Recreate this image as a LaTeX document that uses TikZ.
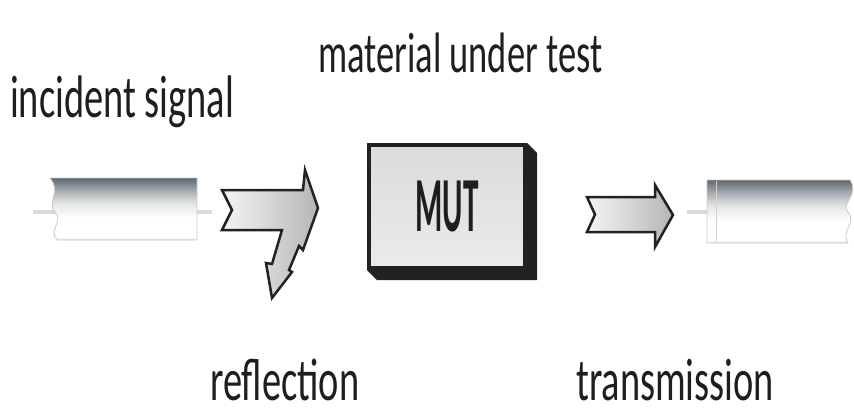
\documentclass[tikz,border=0pt]{standalone}
\usepackage{fontspec}
\setmainfont{Carlito}
\newfontfamily\capfont[FakeStretch=0.64]{Carlito}
\newfontfamily\mutfont[FakeStretch=0.40]{Carlito}
\usepackage{tikz}
\usetikzlibrary{positioning, calc}
\definecolor{cablegrey}{HTML}{5C6770}
\definecolor{edgedark}{HTML}{222222}
\definecolor{inkgrey}{HTML}{1E1E1E}

% cable body: dark rim on top, white underside
\pgfdeclareverticalshading{cableshade}{100bp}{color(0bp)=(gray!30); color(25bp)=(gray!30); color(27bp)=(white); color(43bp)=(white); color(55bp)=(gray!22); color(65bp)=(cablegrey!55); color(75bp)=(cablegrey); color(100bp)=(cablegrey)}

\begin{document}
\begin{tikzpicture}[x=1pt, y=-1pt,
  sigtext/.style={font=\capfont\fontsize{60}{60}\selectfont, text=inkgrey, inner sep=0pt, anchor=base west},
  cable/.style={shading=cableshade, draw=gray!40, line width=0.8pt},
  stub/.style={fill=gray!30},
  blockarrow/.style={left color=gray!8, right color=gray!58, draw=edgedark, line width=2.5pt, line join=miter},
  mutbox/.style={draw=edgedark, line width=4pt, top color=gray!28, bottom color=gray!16, minimum width=156pt, minimum height=123pt, font=\mutfont\bfseries\fontsize{78}{78}\selectfont, text=inkgrey, inner sep=0pt}]
  \useasboundingbox[fill=white] (0,0) rectangle (854,418);

  % labels
  \node[sigtext] (incident) at (10,117) {incident signal};
  \node[sigtext, font=\capfont\fontsize{57}{57}\selectfont] (material) at (318,72) {material under test};
  \node[sigtext] (reflection) at (210,400) {reflection};
  \node[sigtext] (transmission) at (576,400) {transmission};

  % left cable, torn end on the left
  \fill[stub] (33,210) rectangle (212,214);
  \draw[cable] (50,178) -- (197,178) -- (197,240) -- (57,240)
    .. controls (48,229) and (64,222) .. (55,212)
    .. controls (46,202) and (62,192) .. (50,178) -- cycle;

  % right cable, torn end on the right
  \fill[stub] (687,210) rectangle (708,214);
  \draw[cable] (707,180) -- (850,180)
    .. controls (860,195) and (840,204) .. (848,212)
    .. controls (857,222) and (840,232) .. (848,243) -- (707,243) -- cycle;
  \draw[gray!35, line width=0.6pt] (716,181) -- (716,242);

  % incident wave splitting into reflected part
  \draw[blockarrow] (222,190) -- (303,190) -- (305,170) -- (318,208) -- (303,250)
    -- (299,246) -- (289,270) -- (292,272) -- (272,298) -- (266,263)
    -- (272,264) -- (282,230) -- (222,230) -- (232,210) -- cycle;

  % sample block with dark side faces
  \node[mutbox] (mut) at (447,206.5) {MUT};
  \fill[edgedark] (mut.north east) -- ++(10,10) -- ($(mut.south east)+(10,10)$)
    -- ($(mut.south west)+(10,10)$) -- (mut.south west) -- (mut.south east) -- cycle;

  % transmitted wave
  \draw[blockarrow] (587,197) -- (655,197) -- (655,185) -- (673,215) -- (655,247)
    -- (655,232) -- (587,232) -- (595,214.5) -- cycle;
\end{tikzpicture}
\end{document}
